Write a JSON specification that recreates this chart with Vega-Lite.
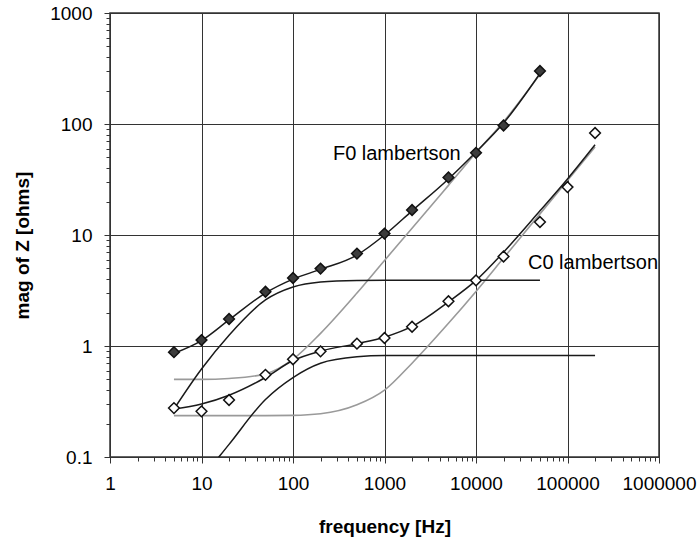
{
  "$schema": "https://vega.github.io/schema/vega-lite/v6.json",
  "autosize": "none",
  "width": 549,
  "height": 444,
  "padding": {"left": 110, "top": 13, "right": 41, "bottom": 87},
  "background": "white",
  "config": {"view": {"stroke": "#333", "strokeWidth": 1.5}, "font": "Liberation Sans"},
  "datasets": {
    "curves": [
      {"s": "F0 fit", "f": 5, "v": 0.86}, {"s": "F0 fit", "f": 10, "v": 1.12}, {"s": "F0 fit", "f": 20, "v": 1.72}, {"s": "F0 fit", "f": 50, "v": 3.0}, {"s": "F0 fit", "f": 100, "v": 4.0}, {"s": "F0 fit", "f": 200, "v": 4.9}, {"s": "F0 fit", "f": 500, "v": 6.6}, {"s": "F0 fit", "f": 1000, "v": 10}, {"s": "F0 fit", "f": 2000, "v": 16.5}, {"s": "F0 fit", "f": 5000, "v": 32}, {"s": "F0 fit", "f": 10000, "v": 56}, {"s": "F0 fit", "f": 20000, "v": 102}, {"s": "F0 fit", "f": 50000, "v": 285},
      {"s": "F0 R", "f": 5, "v": 0.27}, {"s": "F0 R", "f": 10, "v": 0.62}, {"s": "F0 R", "f": 20, "v": 1.25}, {"s": "F0 R", "f": 50, "v": 2.6}, {"s": "F0 R", "f": 100, "v": 3.4}, {"s": "F0 R", "f": 200, "v": 3.77}, {"s": "F0 R", "f": 500, "v": 3.9}, {"s": "F0 R", "f": 1000, "v": 3.92}, {"s": "F0 R", "f": 10000, "v": 3.92}, {"s": "F0 R", "f": 50000, "v": 3.92},
      {"s": "F0 L", "f": 5, "v": 0.5}, {"s": "F0 L", "f": 10, "v": 0.5}, {"s": "F0 L", "f": 20, "v": 0.51}, {"s": "F0 L", "f": 50, "v": 0.56}, {"s": "F0 L", "f": 100, "v": 0.76}, {"s": "F0 L", "f": 200, "v": 1.3}, {"s": "F0 L", "f": 500, "v": 3.0}, {"s": "F0 L", "f": 1000, "v": 5.9}, {"s": "F0 L", "f": 2000, "v": 11.5}, {"s": "F0 L", "f": 5000, "v": 28}, {"s": "F0 L", "f": 10000, "v": 55}, {"s": "F0 L", "f": 20000, "v": 105}, {"s": "F0 L", "f": 50000, "v": 280},
      {"s": "C0 fit", "f": 5, "v": 0.27}, {"s": "C0 fit", "f": 10, "v": 0.30}, {"s": "C0 fit", "f": 20, "v": 0.36}, {"s": "C0 fit", "f": 50, "v": 0.52}, {"s": "C0 fit", "f": 100, "v": 0.74}, {"s": "C0 fit", "f": 200, "v": 0.9}, {"s": "C0 fit", "f": 500, "v": 1.05}, {"s": "C0 fit", "f": 1000, "v": 1.2}, {"s": "C0 fit", "f": 2000, "v": 1.5}, {"s": "C0 fit", "f": 5000, "v": 2.5}, {"s": "C0 fit", "f": 10000, "v": 3.9}, {"s": "C0 fit", "f": 20000, "v": 7.0}, {"s": "C0 fit", "f": 50000, "v": 16.5}, {"s": "C0 fit", "f": 100000, "v": 32}, {"s": "C0 fit", "f": 200000, "v": 65},
      {"s": "C0 R", "f": 5, "v": 0.033}, {"s": "C0 R", "f": 10, "v": 0.064}, {"s": "C0 R", "f": 20, "v": 0.13}, {"s": "C0 R", "f": 50, "v": 0.33}, {"s": "C0 R", "f": 100, "v": 0.52}, {"s": "C0 R", "f": 200, "v": 0.70}, {"s": "C0 R", "f": 500, "v": 0.80}, {"s": "C0 R", "f": 1000, "v": 0.82}, {"s": "C0 R", "f": 10000, "v": 0.82}, {"s": "C0 R", "f": 200000, "v": 0.82},
      {"s": "C0 L", "f": 5, "v": 0.236}, {"s": "C0 L", "f": 10, "v": 0.236}, {"s": "C0 L", "f": 20, "v": 0.236}, {"s": "C0 L", "f": 50, "v": 0.236}, {"s": "C0 L", "f": 100, "v": 0.237}, {"s": "C0 L", "f": 200, "v": 0.245}, {"s": "C0 L", "f": 500, "v": 0.295}, {"s": "C0 L", "f": 1000, "v": 0.40}, {"s": "C0 L", "f": 2000, "v": 0.70}, {"s": "C0 L", "f": 5000, "v": 1.6}, {"s": "C0 L", "f": 10000, "v": 3.1}, {"s": "C0 L", "f": 20000, "v": 6.2}, {"s": "C0 L", "f": 50000, "v": 15.5}, {"s": "C0 L", "f": 100000, "v": 31}, {"s": "C0 L", "f": 200000, "v": 62}
    ],
    "points": [
      {"s": "F0", "f": 5, "v": 0.88}, {"s": "F0", "f": 10, "v": 1.13}, {"s": "F0", "f": 20, "v": 1.75}, {"s": "F0", "f": 50, "v": 3.08}, {"s": "F0", "f": 100, "v": 4.1}, {"s": "F0", "f": 200, "v": 4.98}, {"s": "F0", "f": 500, "v": 6.8}, {"s": "F0", "f": 1000, "v": 10.3}, {"s": "F0", "f": 2000, "v": 16.8}, {"s": "F0", "f": 5000, "v": 33}, {"s": "F0", "f": 10000, "v": 55}, {"s": "F0", "f": 20000, "v": 97}, {"s": "F0", "f": 50000, "v": 300},
      {"s": "C0", "f": 5, "v": 0.276}, {"s": "C0", "f": 10, "v": 0.258}, {"s": "C0", "f": 20, "v": 0.326}, {"s": "C0", "f": 50, "v": 0.55}, {"s": "C0", "f": 100, "v": 0.76}, {"s": "C0", "f": 200, "v": 0.895}, {"s": "C0", "f": 500, "v": 1.05}, {"s": "C0", "f": 1000, "v": 1.18}, {"s": "C0", "f": 2000, "v": 1.49}, {"s": "C0", "f": 5000, "v": 2.53}, {"s": "C0", "f": 10000, "v": 3.9}, {"s": "C0", "f": 20000, "v": 6.4}, {"s": "C0", "f": 50000, "v": 13.1}, {"s": "C0", "f": 100000, "v": 27}, {"s": "C0", "f": 200000, "v": 83}
    ],
    "labels": [
      {"label": "F0 lambertson", "f": 273, "v": 47.4},
      {"label": "C0 lambertson", "f": 37000, "v": 4.94}
    ]
  },
  "encoding": {
    "x": {
      "field": "f", "type": "quantitative",
      "scale": {"type": "log", "domain": [1, 1000000], "nice": false},
      "axis": {
        "title": "frequency [Hz]",
        "values": [1,2,3,4,5,6,7,8,9,10,20,30,40,50,60,70,80,90,100,200,300,400,500,600,700,800,900,1000,2000,3000,4000,5000,6000,7000,8000,9000,10000,20000,30000,40000,50000,60000,70000,80000,90000,100000,200000,300000,400000,500000,600000,700000,800000,900000,1000000],
        "labelExpr": "indexof([1,10,100,1000,10000,100000,1000000], datum.value) >= 0 ? datum.value + '' : ''",
        "labelFont": "Liberation Sans", "labelFontSize": 19, "labelColor": "#000", "labelPadding": 11,
        "labelFlush": false, "labelOverlap": false,
        "tickSize": {"condition": {"test": "indexof([1,10,100,1000,10000,100000,1000000], datum.value) >= 0", "value": 6}, "value": 4},
        "tickColor": "#333", "tickWidth": 1,
        "grid": true, "gridColor": "#333", "gridWidth": 1,
        "gridOpacity": {"condition": {"test": "indexof([1,10,100,1000,10000,100000,1000000], datum.value) >= 0", "value": 1}, "value": 0},
        "domain": false,
        "titleFont": "Liberation Sans", "titleFontSize": 19, "titleFontWeight": "bold", "titleColor": "#000",
        "titleY": 75, "titleBaseline": "alphabetic"
      }
    },
    "y": {
      "field": "v", "type": "quantitative",
      "scale": {"type": "log", "domain": [0.1, 1000], "nice": false},
      "axis": {
        "title": "mag of Z [ohms]",
        "values": [0.1,0.2,0.3,0.4,0.5,0.6,0.7,0.8,0.9,1,2,3,4,5,6,7,8,9,10,20,30,40,50,60,70,80,90,100,200,300,400,500,600,700,800,900,1000],
        "labelExpr": "indexof([0.1,1,10,100,1000], datum.value) >= 0 ? datum.value + '' : ''",
        "labelFont": "Liberation Sans", "labelFontSize": 19, "labelColor": "#000", "labelPadding": 12,
        "labelFlush": false, "labelOverlap": false,
        "tickSize": {"condition": {"test": "indexof([0.1,1,10,100,1000], datum.value) >= 0", "value": 6}, "value": 4},
        "tickColor": "#333", "tickWidth": 1,
        "grid": true, "gridColor": "#333", "gridWidth": 1,
        "gridOpacity": {"condition": {"test": "indexof([0.1,1,10,100,1000], datum.value) >= 0", "value": 1}, "value": 0},
        "domain": false,
        "titleFont": "Liberation Sans", "titleFontSize": 19, "titleFontWeight": "bold", "titleColor": "#000",
        "titleX": -88, "titleY": 232, "titleAngle": -90, "titleAlign": "center", "titleBaseline": "middle"
      }
    }
  },
  "layer": [
    {
      "data": {"name": "curves"},
      "transform": [{"filter": "datum.s === 'F0 L' || datum.s === 'C0 L'"}],
      "mark": {"type": "line", "interpolate": "monotone", "clip": true, "color": "#9a9a9a", "strokeWidth": 1.6},
      "encoding": {"detail": {"field": "s"}}
    },
    {
      "data": {"name": "curves"},
      "transform": [{"filter": "datum.s !== 'F0 L' && datum.s !== 'C0 L'"}],
      "mark": {"type": "line", "interpolate": "monotone", "clip": true, "color": "#1a1a1a", "strokeWidth": 1.5},
      "encoding": {"detail": {"field": "s"}}
    },
    {
      "data": {"name": "points"},
      "transform": [{"filter": "datum.s === 'F0'"}],
      "mark": {"type": "point", "shape": "diamond", "size": 115, "filled": true, "fill": "#3c3c3c", "stroke": "#111", "strokeWidth": 1.5, "opacity": 1}
    },
    {
      "data": {"name": "points"},
      "transform": [{"filter": "datum.s === 'C0'"}],
      "mark": {"type": "point", "shape": "diamond", "size": 115, "filled": true, "fill": "white", "stroke": "#111", "strokeWidth": 1.5, "opacity": 1}
    },
    {
      "data": {"name": "labels"},
      "mark": {"type": "text", "align": "left", "baseline": "alphabetic", "font": "Liberation Sans", "fontSize": 20, "color": "#000", "clip": true},
      "encoding": {"text": {"field": "label"}}
    }
  ]
}
